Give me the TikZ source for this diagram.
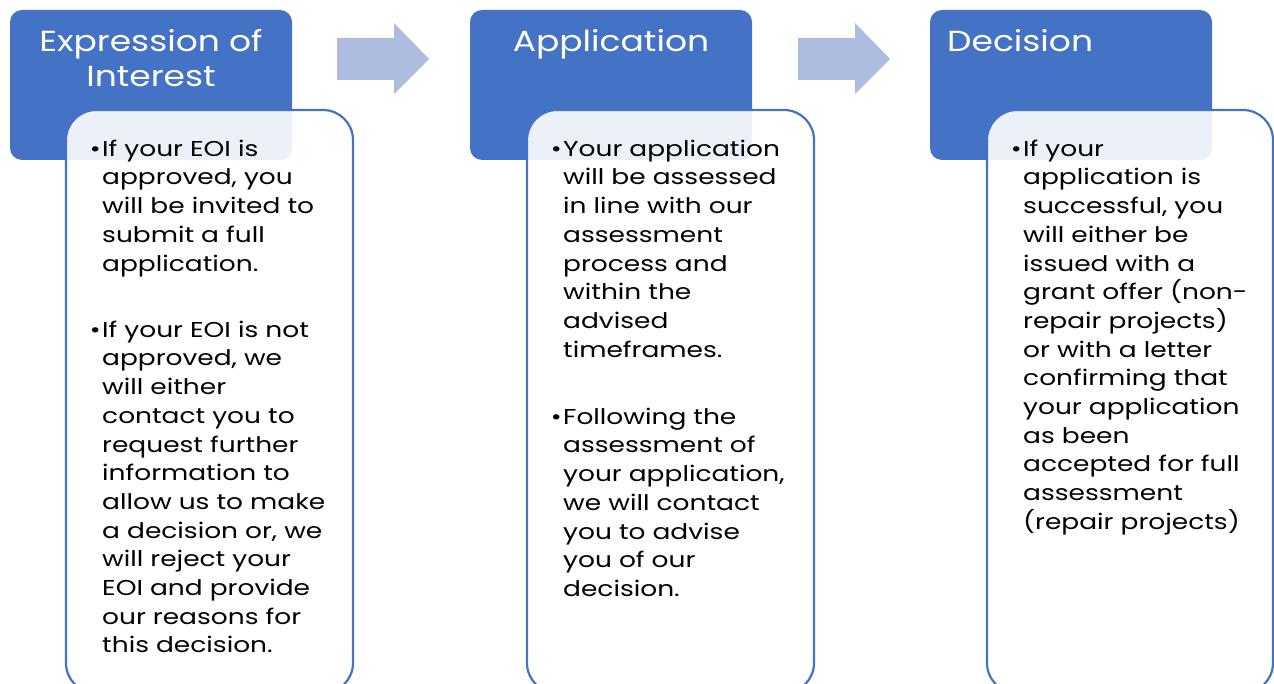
\documentclass[tikz,border=0pt]{standalone}
\usepackage{fontspec}
\setmainfont{Poppins}
\newfontfamily\headfont{Poppins}[FakeStretch=1.19]
\newfontfamily\bodyfont{Poppins}[FakeStretch=1.23]
\definecolor{accent}{RGB}{68,114,196}
\definecolor{arrowc}{RGB}{174,188,224}
\begin{document}
\begin{tikzpicture}[x=1pt,y=-1pt,
  headbox/.style={fill=accent,draw=none,rounded corners=12pt},
  bodybox/.style={fill=white,fill opacity=0.9,draw=accent,line width=2.2pt,rounded corners=30pt},
  flowarrow/.style={fill=arrowc,draw=none},
  headtxt/.style={inner sep=0pt,text=white,font=\headfont\fontsize{29}{35}\selectfont,align=center},
  bodytxt/.style={inner sep=0pt,text=black,font=\bodyfont\fontsize{21.5}{28.7}\selectfont,align=left,anchor=north west},
  bullet/.style={inner sep=0pt,text=black,font=\bodyfont\fontsize{21.5}{28.7}\selectfont,anchor=north east}]
\useasboundingbox (0,0) rectangle (1274,684);
% stage 1
\path[headbox] (10,10) rectangle (292,160);
\node[headtxt,anchor=north] (h1) at (151,27) {\strut Expression of\\Interest};
\path[bodybox] (66,110) rectangle (353,693);
\node[bodytxt] (p1a) at (102,136) {\strut If your EOI is\\approved, you\\will be invited to\\submit a full\\application.};
\node[bullet] (b1a) at (101,136) {\strut •};
\node[bodytxt] (p1b) at (102,317) {\strut If your EOI is not\\approved, we\\will either\\contact you to\\request further\\information to\\allow us to make\\a decision or, we\\will reject your\\EOI and provide\\our reasons for\\this decision.};
\node[bullet] (b1b) at (101,317) {\strut •};
% arrow 1
\path[flowarrow] (337,38) -- (394,38) -- (394,23) -- (429,59) -- (394,94) -- (394,80) -- (337,80) -- cycle;
% stage 2
\path[headbox] (470,10) rectangle (752,160);
\node[headtxt,anchor=north] (h2) at (611,27) {\strut Application};
\path[bodybox] (527,110) rectangle (814,693);
\node[bodytxt] (p2a) at (563,136) {\strut Your application\\will be assessed\\in line with our\\assessment\\process and\\within the\\advised\\timeframes.};
\node[bullet] (b2a) at (562,136) {\strut •};
\node[bodytxt] (p2b) at (563,404) {\strut Following the\\assessment of\\your application,\\we will contact\\you to advise\\you of our\\decision.};
\node[bullet] (b2b) at (562,404) {\strut •};
% arrow 2
\path[flowarrow] (798,38) -- (855,38) -- (855,23) -- (890,59) -- (855,94) -- (855,80) -- (798,80) -- cycle;
% stage 3
\path[headbox] (930,10) rectangle (1212,160);
\node[headtxt,anchor=north west] (h3) at (947,27) {\strut Decision};
\path[bodybox] (987,110) rectangle (1273,693);
\node[bodytxt] (p3a) at (1023,136) {\strut If your\\application is\\successful, you\\will either be\\issued with a\\grant offer (non-\\repair projects)\\or with a letter\\confirming that\\your application\\as been\\accepted for full\\assessment\\(repair projects)};
\node[bullet] (b3a) at (1022,136) {\strut •};
\end{tikzpicture}
\end{document}
